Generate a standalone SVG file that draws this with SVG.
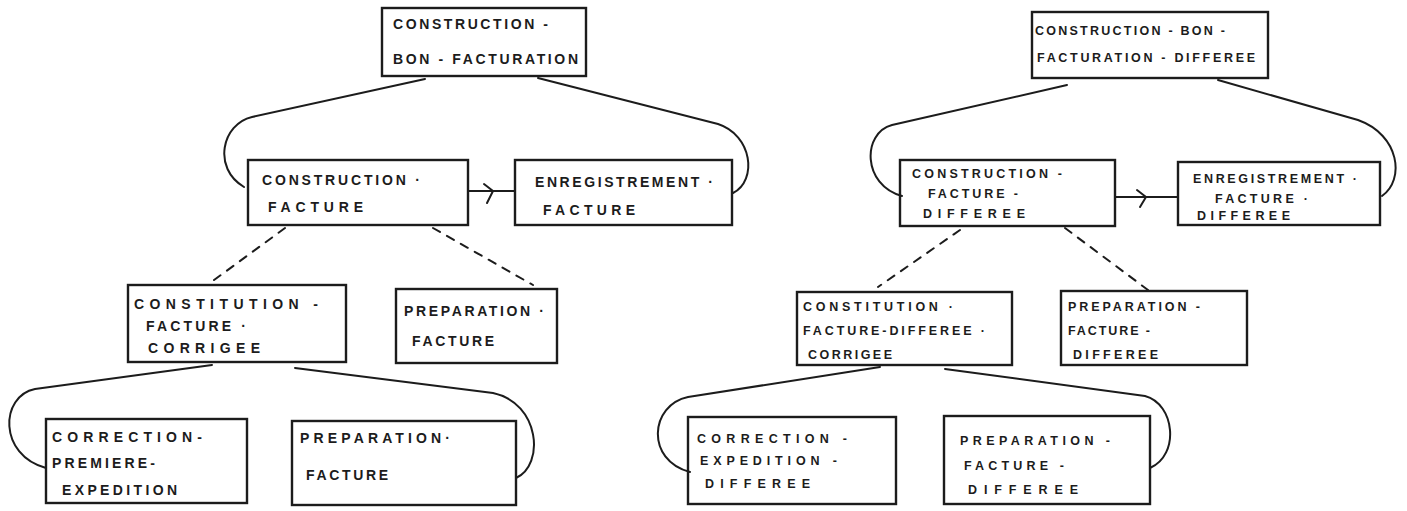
<svg xmlns="http://www.w3.org/2000/svg" width="1407" height="511" viewBox="0 0 1407 511">
  <style>
    .box { fill: none; stroke: #1c1c1c; stroke-width: 2.4; }
    .lbl { font-family: "Liberation Sans", Arial, sans-serif; font-size: 14px; font-weight: bold; fill: #1c1c1c; }
    .sm { font-size: 12.5px; }
    .link { fill: none; stroke: #1c1c1c; stroke-width: 2; stroke-linecap: round; stroke-linejoin: round; }
    .dash { stroke-dasharray: 8 8; }
  </style>
  <rect width="1407" height="511" fill="#ffffff"/>

  <!-- connectors -->
  <g id="connectors">
    <!-- left tree: sequence arc over the two middle boxes -->
    <path class="link" d="M 425 79 L 252 117 C 222 124 212 168 244 187"/>
    <path class="link" d="M 538 78 L 718 124 C 752 135 758 180 733 193"/>
    <!-- left tree: arrow between middle boxes -->
    <path class="link" d="M 468 191 L 515 191"/>
    <path class="link" d="M 484 184 L 493 191 L 487 203"/>
    <!-- left tree: dashed alternatives -->
    <path class="link dash" d="M 285 228 L 210 283"/>
    <path class="link dash" d="M 433 228 L 533 285"/>
    <!-- left tree: sequence arc over bottom boxes -->
    <path class="link" d="M 212 365 L 35 389 C 0 396 -2 455 46 468"/>
    <path class="link" d="M 295 368 L 493 393 C 540 403 545 465 516 478"/>

    <!-- right tree: sequence arc over the two middle boxes -->
    <path class="link" d="M 1067 85 L 892 125 C 862 133 862 185 902 196"/>
    <path class="link" d="M 1218 80 L 1358 120 C 1400 135 1405 180 1382 196"/>
    <!-- right tree: arrow between middle boxes -->
    <path class="link" d="M 1115 197 L 1178 197"/>
    <path class="link" d="M 1137 190 L 1146 197 L 1140 207"/>
    <!-- right tree: dashed alternatives -->
    <path class="link dash" d="M 960 230 L 878 287"/>
    <path class="link dash" d="M 1065 228 L 1148 290"/>
    <!-- right tree: sequence arc over bottom boxes -->
    <path class="link" d="M 880 367 L 688 397 C 650 405 645 460 690 472"/>
    <path class="link" d="M 945 369 L 1145 396 C 1175 404 1180 455 1150 468"/>
  </g>

  <!-- left tree nodes -->
  <g id="construction-bon-facturation">
    <rect class="box" x="382" y="8" width="204" height="68"/>
    <text class="lbl" x="393" y="29" textLength="155" lengthAdjust="spacing">CONSTRUCTION -</text>
    <text class="lbl" x="393" y="64" textLength="185" lengthAdjust="spacing">BON - FACTURATION</text>
  </g>
  <g id="construction-facture">
    <rect class="box" x="248" y="160" width="220" height="65"/>
    <text class="lbl" x="262" y="185" textLength="158" lengthAdjust="spacing">CONSTRUCTION ·</text>
    <text class="lbl" x="268" y="212" textLength="95" lengthAdjust="spacing">FACTURE</text>
  </g>
  <g id="enregistrement-facture">
    <rect class="box" x="515" y="160" width="217" height="65"/>
    <text class="lbl" x="535" y="187" textLength="178" lengthAdjust="spacing">ENREGISTREMENT ·</text>
    <text class="lbl" x="543" y="215" textLength="92" lengthAdjust="spacing">FACTURE</text>
  </g>
  <g id="constitution-facture-corrigee">
    <rect class="box" x="128" y="285" width="218" height="77"/>
    <text class="lbl" x="134" y="309" textLength="184" lengthAdjust="spacing">CONSTITUTION -</text>
    <text class="lbl" x="146" y="331" textLength="100" lengthAdjust="spacing">FACTURE ·</text>
    <text class="lbl" x="148" y="353" textLength="112" lengthAdjust="spacing">CORRIGEE</text>
  </g>
  <g id="preparation-facture-1">
    <rect class="box" x="396" y="289" width="161" height="74"/>
    <text class="lbl" x="404" y="316" textLength="140" lengthAdjust="spacing">PREPARATION ·</text>
    <text class="lbl" x="412" y="346" textLength="82" lengthAdjust="spacing">FACTURE</text>
  </g>
  <g id="correction-premiere-expedition">
    <rect class="box" x="46" y="419" width="201" height="84"/>
    <text class="lbl" x="52" y="442" textLength="150" lengthAdjust="spacing">CORRECTION-</text>
    <text class="lbl" x="52" y="468" textLength="103" lengthAdjust="spacing">PREMIERE-</text>
    <text class="lbl" x="62" y="495" textLength="115" lengthAdjust="spacing">EXPEDITION</text>
  </g>
  <g id="preparation-facture-2">
    <rect class="box" x="292" y="421" width="224" height="84"/>
    <text class="lbl" x="300" y="443" textLength="150" lengthAdjust="spacing">PREPARATION·</text>
    <text class="lbl" x="306" y="480" textLength="82" lengthAdjust="spacing">FACTURE</text>
  </g>

  <!-- right tree nodes -->
  <g id="construction-bon-facturation-differee">
    <rect class="box" x="1032" y="12" width="236" height="66"/>
    <text class="lbl sm" x="1035" y="35" textLength="190" lengthAdjust="spacing">CONSTRUCTION - BON -</text>
    <text class="lbl sm" x="1037" y="62" textLength="218" lengthAdjust="spacing">FACTURATION - DIFFEREE</text>
  </g>
  <g id="construction-facture-differee">
    <rect class="box" x="900" y="160" width="215" height="66"/>
    <text class="lbl sm" x="912" y="178" textLength="150" lengthAdjust="spacing">CONSTRUCTION -</text>
    <text class="lbl sm" x="928" y="198" textLength="90" lengthAdjust="spacing">FACTURE -</text>
    <text class="lbl sm" x="923" y="218" textLength="102" lengthAdjust="spacing">DIFFEREE</text>
  </g>
  <g id="enregistrement-facture-differee">
    <rect class="box" x="1178" y="162" width="202" height="63"/>
    <text class="lbl sm" x="1193" y="183" textLength="164" lengthAdjust="spacing">ENREGISTREMENT ·</text>
    <text class="lbl sm" x="1215" y="203" textLength="93" lengthAdjust="spacing">FACTURE ·</text>
    <text class="lbl sm" x="1197" y="220" textLength="93" lengthAdjust="spacing">DIFFEREE</text>
  </g>
  <g id="constitution-facture-differee-corrigee">
    <rect class="box" x="797" y="292" width="215" height="73"/>
    <text class="lbl sm" x="803" y="311" textLength="150" lengthAdjust="spacing">CONSTITUTION ·</text>
    <text class="lbl sm" x="803" y="335" textLength="182" lengthAdjust="spacing">FACTURE-DIFFEREE ·</text>
    <text class="lbl sm" x="808" y="359" textLength="84" lengthAdjust="spacing">CORRIGEE</text>
  </g>
  <g id="preparation-facture-differee-1">
    <rect class="box" x="1061" y="291" width="186" height="74"/>
    <text class="lbl sm" x="1068" y="311" textLength="132" lengthAdjust="spacing">PREPARATION -</text>
    <text class="lbl sm" x="1068" y="335" textLength="82" lengthAdjust="spacing">FACTURE -</text>
    <text class="lbl sm" x="1073" y="359" textLength="85" lengthAdjust="spacing">DIFFEREE</text>
  </g>
  <g id="correction-expedition-differee">
    <rect class="box" x="688" y="417" width="208" height="87"/>
    <text class="lbl sm" x="697" y="443" textLength="150" lengthAdjust="spacing">CORRECTION -</text>
    <text class="lbl sm" x="700" y="465" textLength="137" lengthAdjust="spacing">EXPEDITION -</text>
    <text class="lbl sm" x="705" y="488" textLength="105" lengthAdjust="spacing">DIFFEREE</text>
  </g>
  <g id="preparation-facture-differee-2">
    <rect class="box" x="944" y="416" width="206" height="88"/>
    <text class="lbl sm" x="960" y="445" textLength="150" lengthAdjust="spacing">PREPARATION -</text>
    <text class="lbl sm" x="964" y="470" textLength="100" lengthAdjust="spacing">FACTURE -</text>
    <text class="lbl sm" x="968" y="494" textLength="110" lengthAdjust="spacing">DIFFEREE</text>
  </g>
</svg>
